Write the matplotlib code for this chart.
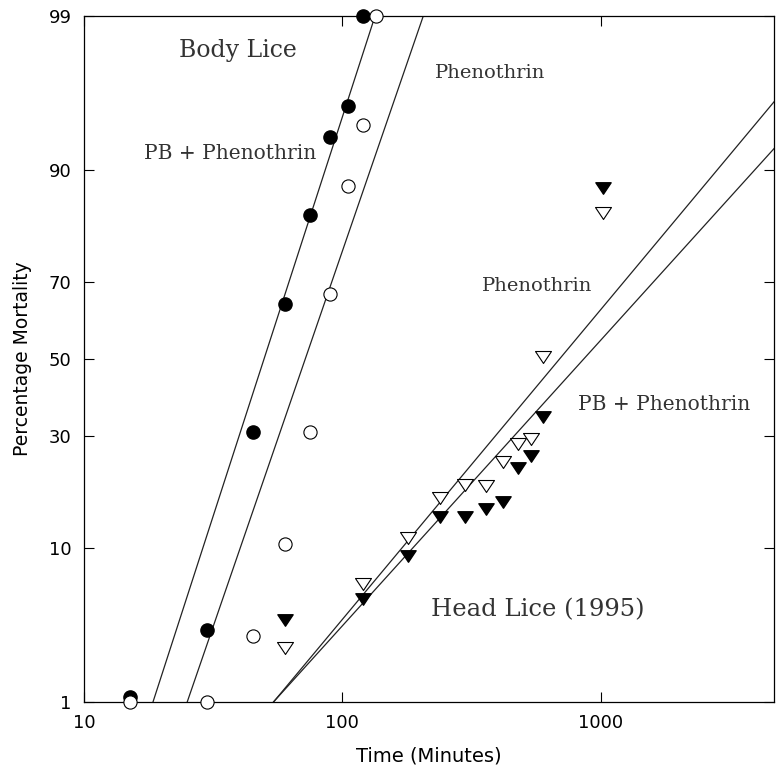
import numpy as np
import matplotlib
matplotlib.use('Agg')
import matplotlib.pyplot as plt
from matplotlib.path import Path
from statistics import NormalDist

# body lice (minutes, % mortality)
body_t = [15, 30, 45, 60, 75, 90, 105, 120]
body_pb = [1.1, 3.3, 31, 64.5, 83.5, 93.4, 95.7, 99]
body_t_ph = [15, 30, 45, 60, 75, 90, 105, 120, 135]
body_ph = [1, 1, 3, 10.5, 31, 67, 88, 94.4, 99]

# head lice 1995
head_t = [60, 120, 180, 240, 300, 360, 420, 480, 540, 600, 1020]
head_pb = [3.85, 5.2, 9.1, 14.2, 14.1, 15.5, 16.6, 23, 25.5, 34.6, 87.7]
head_ph = [2.5, 6.3, 11.2, 17.2, 19.7, 19.5, 24.3, 28.1, 29.4, 50.5, 83.8]

# fitted probit lines: time at 1% and at 99% mortality
line_names = ['body_pb', 'body_ph', 'head_ph', 'head_pb']
line_t1 = [18.5, 25.1, 54.2, 54.2]
line_t99 = [134, 206, 8900, 13700]

nd = NormalDist()
_ppf = np.vectorize(lambda p: nd.inv_cdf(min(max(p / 100.0, 1e-9), 1 - 1e-9)), otypes=[float])
_cdf = np.vectorize(lambda z: nd.cdf(z) * 100.0, otypes=[float])


def fwd(p):
    return _ppf(np.asarray(p, dtype=float))


def inv(z):
    return _cdf(np.asarray(z, dtype=float))


fig = plt.figure(figsize=(7.78, 7.73), dpi=100)
ax = fig.add_axes([0.108, 0.092, 0.887, 0.8875])
ax.set_xscale('log')
ax.set_yscale('function', functions=(fwd, inv))

for t1, t99 in zip(line_t1, line_t99):
    ax.plot([t1, t99], [1, 99], color='#222222', lw=0.9, zorder=2)

# down-pointing triangle, a bit wider than tall
tri = Path([(-1, 0.75), (1, 0.75), (0, -0.75), (-1, 0.75)],
           [Path.MOVETO, Path.LINETO, Path.LINETO, Path.CLOSEPOLY])
ax.plot(body_t, body_pb, 'o', ms=9.5, mfc='black', mec='black', zorder=3, clip_on=False)
ax.plot(body_t_ph, body_ph, 'o', ms=9.5, mfc='white', mec='black', mew=0.8, zorder=4, clip_on=False)
ax.plot(head_t, head_pb, ls='none', marker=tri, ms=11, mfc='black', mec='black', zorder=3)
ax.plot(head_t, head_ph, ls='none', marker=tri, ms=11.5, mfc='white', mec='black', mew=0.8, zorder=4)

ax.set_xlim(10, 4700)
ax.set_ylim(1, 99)
yt = [1, 10, 30, 50, 70, 90, 99]
ax.set_yticks(yt)
ax.set_yticklabels([str(v) for v in yt])
ax.set_xticks([10, 100, 1000])
ax.set_xticklabels(['10', '100', '1000'])
ax.xaxis.set_minor_locator(matplotlib.ticker.NullLocator())
ax.yaxis.set_minor_locator(matplotlib.ticker.NullLocator())
ax.tick_params(direction='in', length=7, width=0.8, labelsize=13, pad=9,
               top=True, right=True)
for s in ax.spines.values():
    s.set_linewidth(0.9)

ax.set_xlabel('Time (Minutes)', fontsize=14, labelpad=10)
ax.set_ylabel('Percentage Mortality', fontsize=13.5, labelpad=12)

serif = 'DejaVu Serif'
tc = '#333333'
ax.text(0.223, 0.950, 'Body Lice', transform=ax.transAxes, ha='center', va='center',
        family=serif, fontsize=17, color=tc)
ax.text(0.212, 0.800, 'PB + Phenothrin', transform=ax.transAxes, ha='center', va='center',
        family=serif, fontsize=14.5, color=tc)
ax.text(0.588, 0.917, 'Phenothrin', transform=ax.transAxes, ha='center', va='center',
        family=serif, fontsize=14, color=tc)
ax.text(0.657, 0.606, 'Phenothrin', transform=ax.transAxes, ha='center', va='center',
        family=serif, fontsize=14, color=tc)
ax.text(0.840, 0.433, 'PB + Phenothrin', transform=ax.transAxes, ha='center', va='center',
        family=serif, fontsize=14.5, color=tc)
ax.text(0.657, 0.134, 'Head Lice (1995)', transform=ax.transAxes, ha='center', va='center',
        family=serif, fontsize=17.5, color=tc)

fig.savefig('out.png', dpi=100)
